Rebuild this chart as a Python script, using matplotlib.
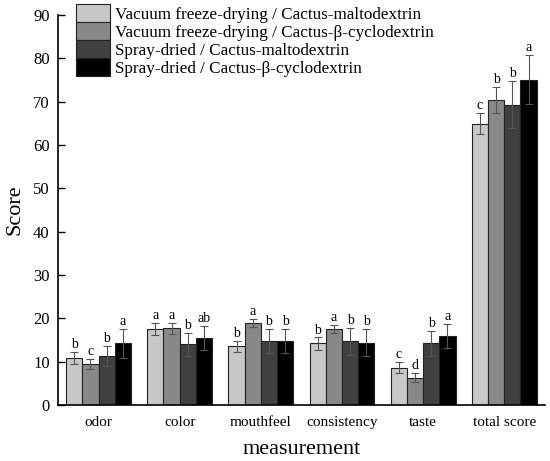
import numpy as np
import matplotlib
matplotlib.use("Agg")
import matplotlib.pyplot as plt

plt.rcParams['font.family'] = ['Liberation Serif', 'DejaVu Serif']

categories = ['odor', 'color', 'mouthfeel', 'consistency', 'taste', 'total score']
series_names = ['Vacuum freeze-drying / Cactus-maltodextrin',
                'Vacuum freeze-drying / Cactus-β-cyclodextrin',
                'Spray-dried / Cactus-maltodextrin',
                'Spray-dried / Cactus-β-cyclodextrin']

vfd_malto = [10.8, 17.5, 13.5, 14.2, 8.6, 64.9]
vfd_beta = [9.4, 17.7, 18.9, 17.5, 6.3, 70.3]
sd_malto = [11.3, 14.0, 14.7, 14.7, 14.2, 69.3]
sd_beta = [14.2, 15.5, 14.7, 14.4, 15.9, 75.1]

err_vfd_malto = [1.4, 1.4, 1.3, 1.4, 1.3, 2.4]
err_vfd_beta = [1.2, 1.3, 0.9, 1.0, 1.0, 3.0]
err_sd_malto = [2.3, 2.6, 2.8, 3.1, 2.9, 5.4]
err_sd_beta = [3.3, 2.8, 2.8, 3.1, 2.8, 5.7]

letters_vfd_malto = ['b', 'a', 'b', 'b', 'c', 'c']
letters_vfd_beta = ['c', 'a', 'a', 'a', 'd', 'b']
letters_sd_malto = ['b', 'b', 'b', 'b', 'b', 'b']
letters_sd_beta = ['a', 'ab', 'b', 'b', 'a', 'a']

values = [vfd_malto, vfd_beta, sd_malto, sd_beta]
errors = [err_vfd_malto, err_vfd_beta, err_sd_malto, err_sd_beta]
letters = [letters_vfd_malto, letters_vfd_beta, letters_sd_malto, letters_sd_beta]
colors = ['#c8c8c8', '#888888', '#404040', '#000000']

fig = plt.figure(figsize=(5.5, 4.61), dpi=100)
ax = fig.add_axes([0.1055, 0.1215, 0.885, 0.846])

x = np.arange(len(categories))
width = 0.2

for i in range(4):
    pos = x + (i - 1.5) * width
    ax.bar(pos, values[i], width, color=colors[i], edgecolor='#222222',
           linewidth=0.8, label=series_names[i], zorder=2)
    ax.errorbar(pos, values[i], yerr=errors[i], fmt='none', ecolor='#555555',
                elinewidth=0.8, capsize=3, capthick=0.8, zorder=3)
    for p, v, e, t in zip(pos, values[i], errors[i], letters[i]):
        ax.text(p, v + e + 0.2, t, ha='center', va='bottom', fontsize=10)

ax.set_xlim(-0.5, 5.5)
ax.set_ylim(0, 90)
ax.set_yticks(range(0, 91, 10))
ax.set_xticks(x)
ax.set_xticklabels(categories, fontsize=11)
ax.tick_params(axis='x', length=0, pad=8)
ax.tick_params(axis='y', direction='in', length=5, width=1, labelsize=12, pad=6)
ax.spines['top'].set_visible(False)
ax.spines['right'].set_visible(False)
ax.spines['left'].set_linewidth(1.2)
ax.spines['bottom'].set_linewidth(1.2)

ax.set_xlabel('measurement', fontsize=16, labelpad=8)
ax.set_ylabel('Score', fontsize=16, labelpad=6)

ax.legend(loc='upper left', bbox_to_anchor=(0.037, 1.027), frameon=False,
          fontsize=12.3, handlelength=2.0, handleheight=1.2, labelspacing=-0.03,
          handletextpad=0.3, borderaxespad=0, borderpad=0)

fig.savefig('out.png', dpi=100)
